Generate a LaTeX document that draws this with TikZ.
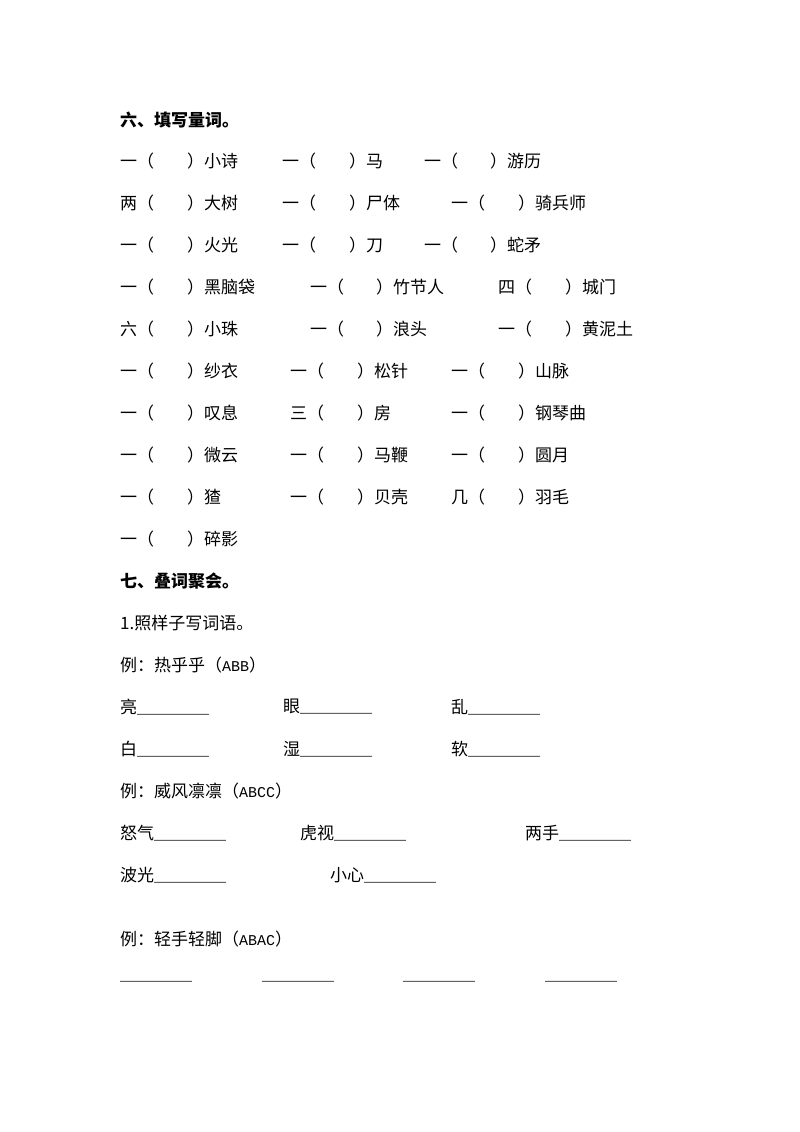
\documentclass[tikz,border=0pt]{standalone}
\usepackage{fontspec}
\setmainfont{Noto Sans CJK SC}
\newfontfamily\cjkb{Noto Sans CJK SC Bold}
\newfontfamily\mono{Liberation Mono}
\begin{document}
\begin{tikzpicture}[x=1pt,y=-1pt,every node/.style={anchor=west,inner sep=0pt,font=\fontsize{17}{17}\selectfont}]
\useasboundingbox[fill=white] (0,0) rectangle (800,1132);
\tikzset{bt/.style={font=\fontsize{17}{17}\selectfont\bfseries}}
\newcommand\ul{{\mono\fontsize{15}{15}\selectfont \_\_\_\_\_\_\_\_}}
\node[bt] (t6) at (120,120) {六、填写量词。};
% rows
\foreach \y/\a/\ax/\b/\bx/\c/\cx/\d/\dx/\e/\ex/\f/\fx [count=\i] in {
161/一（/120/）小诗/187/一（/282/）马/349/一（/424/）游历/490,
203/两（/120/）大树/187/一（/282/）尸体/349/一（/451/）骑兵师/518,
245/一（/120/）火光/187/一（/282/）刀/349/一（/424/）蛇矛/490,
287/一（/120/）黑脑袋/187/一（/310/）竹节人/376/四（/498/）城门/565,
329/六（/120/）小珠/187/一（/310/）浪头/376/一（/498/）黄泥土/565,
371/一（/120/）纱衣/187/一（/290/）松针/357/一（/451/）山脉/518,
413/一（/120/）叹息/187/三（/290/）房/357/一（/451/）钢琴曲/518,
455/一（/120/）微云/187/一（/290/）马鞭/357/一（/451/）圆月/518,
497/一（/120/）猹/187/一（/290/）贝壳/357/几（/451/）羽毛/518}{
\node (r\i a) at (\ax,\y) {\a}; \node (r\i b) at (\bx,\y) {\b};
\node (r\i c) at (\cx,\y) {\c}; \node (r\i d) at (\dx,\y) {\d};
\node (r\i e) at (\ex,\y) {\e}; \node (r\i f) at (\fx,\y) {\f};
}
\node (r10a) at (120,539) {一（}; \node (r10b) at (187,539) {）碎影};
\node[bt] (t7) at (120,581) {七、叠词聚会。};
\node (s1) at (120,623) {1.照样子写词语。};
\node (e1) at (120,665) {例：热乎乎（{\mono\fontsize{15}{15}\selectfont ABB}）};
\node (w1) at (120,707) {亮\ul}; \node (w2) at (283,707) {眼\ul}; \node (w3) at (451,707) {乱\ul};
\node (w4) at (120,749) {白\ul}; \node (w5) at (283,749) {湿\ul}; \node (w6) at (451,749) {软\ul};
\node (e2) at (120,791) {例：威风凛凛（{\mono\fontsize{15}{15}\selectfont ABCC}）};
\node (w7) at (120,833) {怒气\ul}; \node (w8) at (300,833) {虎视\ul}; \node (w9) at (525,833) {两手\ul};
\node (w10) at (120,875) {波光\ul}; \node (w11) at (330,875) {小心\ul};
\node (e3) at (120,939) {例：轻手轻脚（{\mono\fontsize{15}{15}\selectfont ABAC}）};
\node (b1) at (120,981) {\ul}; \node (b2) at (262,981) {\ul}; \node (b3) at (403,981) {\ul}; \node (b4) at (545,981) {\ul};
\end{tikzpicture}
\end{document}
